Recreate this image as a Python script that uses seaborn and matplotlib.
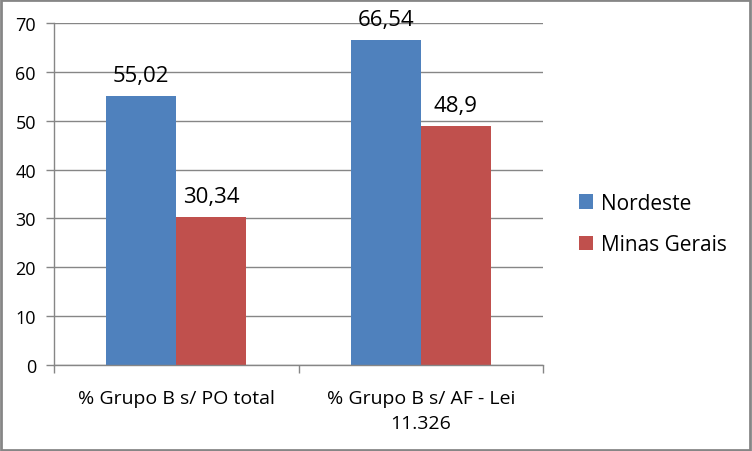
import matplotlib
matplotlib.use("Agg")
import matplotlib.pyplot as plt
import seaborn as sns
import pandas as pd
from matplotlib.patches import Rectangle, Patch

categories = ["% Grupo B s/ PO total", "% Grupo B s/ AF - Lei\n11.326"]
series = ["Nordeste", "Minas Gerais"]
nordeste = [55.02, 66.54]
minas = [30.34, 48.9]
labels_nordeste = ["55,02", "66,54"]
labels_minas = ["30,34", "48,9"]
colors = ["#4F81BD", "#C0504D"]
yticks = [0, 10, 20, 30, 40, 50, 60, 70]

df = pd.DataFrame({
    "cat": categories * 2,
    "serie": [series[0]] * 2 + [series[1]] * 2,
    "val": nordeste + minas,
})

sns.set_theme(style="white")
plt.rcParams["font.family"] = ["Open Sans", "DejaVu Sans"]
plt.rcParams["text.color"] = "black"
plt.rcParams["xtick.color"] = "black"
plt.rcParams["ytick.color"] = "black"

fig = plt.figure(figsize=(7.52, 4.52), dpi=100)
ax = fig.add_axes([54 / 752, 1 - 366 / 452, (543 - 54) / 752, (366 - 24) / 452])

sns.barplot(data=df, x="cat", y="val", hue="serie", palette=colors,
            width=0.573, ax=ax, legend=False, saturation=1, linewidth=0, edgecolor="none")

ax.set_ylim(0, 70)
ax.set_xlim(-0.5, 1.5)
ax.set_yticks(yticks)
ax.set_yticklabels([str(t) for t in yticks], fontsize=13)
ax.set_xlabel("")
ax.set_ylabel("")
ax.set_xticks([0, 1])
ax.set_xticklabels(categories, fontsize=14, linespacing=1.55)
ax.tick_params(axis="x", which="major", length=0, pad=17, bottom=False)
ax.set_xticks([-0.5, 0.5, 1.5], minor=True)
ax.tick_params(axis="x", which="minor", length=6, color="#868686", width=1,
               direction="out", bottom=True)
ax.tick_params(axis="y", length=6, color="#868686", width=1, direction="out",
               pad=7, left=True, labelcolor="black")
ax.yaxis.grid(True, color="#868686", linewidth=1)
ax.set_axisbelow(True)
for s in ["top", "right"]:
    ax.spines[s].set_visible(False)
for s in ["left", "bottom"]:
    ax.spines[s].set_color("#868686")
    ax.spines[s].set_linewidth(1)

conts = ax.containers
ax.bar_label(conts[0], labels=labels_nordeste, padding=7, fontsize=16, color="black")
ax.bar_label(conts[1], labels=labels_minas, padding=7, fontsize=16, color="black")

handles = [Patch(facecolor=c, edgecolor="none") for c in colors]
fig.legend(handles, series, loc="center left", bbox_to_anchor=(560 / 752, 1 - 225 / 452),
           frameon=False, fontsize=15, handlelength=0.7, handleheight=0.7,
           handletextpad=0.35, labelspacing=1.0, labelcolor="black")

fig.patches.append(Rectangle((0.001, 0.002), 0.997, 0.996, transform=fig.transFigure,
                             fill=False, edgecolor="#868686", linewidth=2))

fig.savefig("out.png", dpi=100)
